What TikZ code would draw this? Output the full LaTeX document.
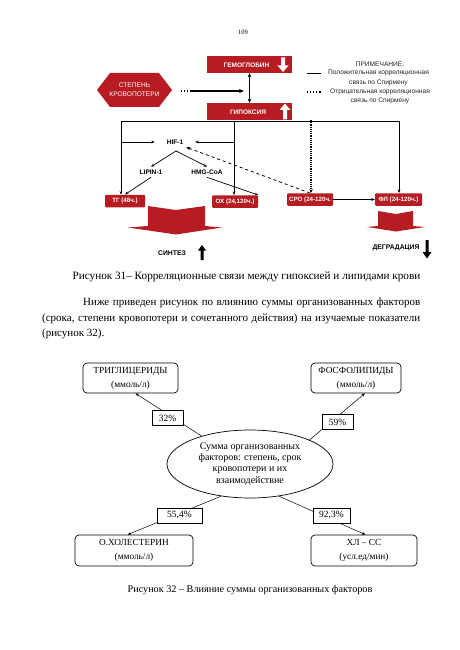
\documentclass[tikz,border=0pt]{standalone}
\usepackage{fontspec}
\setmainfont{Liberation Serif}
\newfontfamily\arial{Liberation Sans}
\usetikzlibrary{arrows.meta,shapes.geometric}
\definecolor{hred}{RGB}{182,28,34}
\begin{document}
\begin{tikzpicture}[x=1pt,y=-1pt,
  bigred/.style={fill=hred,draw=none,minimum width=85pt,minimum height=17pt,inner sep=0pt},
  redtxt/.style={text=white,font=\arial\bfseries\fontsize{6.5}{7}\selectfont,inner sep=0pt},
  smallred/.style={fill=hred,draw=none,rounded corners=1pt,text=white,font=\arial\bfseries\fontsize{6.2}{7}\selectfont,inner sep=0pt,minimum height=12.5pt},
  lbl/.style={font=\arial\bfseries\fontsize{6.6}{7}\selectfont,inner sep=0pt,outer sep=3pt},
  legtxt/.style={font=\arial\fontsize{6.6}{9.5}\selectfont,align=center,inner sep=0pt,text=black!85},
  ln/.style={line width=0.7pt},
  arr/.style={line width=0.7pt,-{Stealth[length=3.5pt,width=2.8pt]}},
  whitearrow/.style={fill=white,draw=none},
  blackarrow/.style={fill=black,draw=none},
  chev/.style={fill=hred,draw=none},
  rbox/.style={draw,rounded corners=4pt,line width=0.7pt,align=center,font=\fontsize{9.3}{14}\selectfont,inner sep=0pt},
  pct/.style={draw,fill=white,line width=0.6pt,font=\fontsize{9.5}{10}\selectfont,inner sep=0pt,minimum height=15pt},
  tarr/.style={line width=0.5pt,-{Stealth[length=3.5pt,width=2.8pt]}}
]
\useasboundingbox (0,0) rectangle (459,650);
\fill[white] (0,0) rectangle (459,650);

% page number
\node[font=\fontsize{6.5}{7}\selectfont] (pg) at (243,32) {109};

% ---------- Figure 31 ----------
\node[bigred] (gem) at (249.5,64.5) {};
\node[redtxt] (gemt) at (246.5,65) {ГЕМОГЛОБИН};
\fill[whitearrow] (281,57.5) -- (285,57.5) -- (285,65.5) -- (288.5,65.5) -- (283,72) -- (277.5,65.5) -- (281,65.5) -- cycle;

\node[bigred] (hyp) at (249.5,111.5) {};
\node[redtxt] (hypt) at (248,112) {ГИПОКСИЯ};
\fill[whitearrow] (285,103.5) -- (290.5,110) -- (287,110) -- (287,119.5) -- (283,119.5) -- (283,110) -- (279.5,110) -- cycle;

\draw[line width=1.1pt,{Stealth[length=4pt,width=3.5pt]}-{Stealth[length=4pt,width=3.5pt]}] (gem.south) -- (hyp.north);

% hexagon
\fill[hred] (97,90) -- (110,73) -- (159,73) -- (172,90) -- (159,107) -- (110,107) -- cycle;
\node[text=white,font=\arial\fontsize{6.6}{9}\selectfont,align=center,inner sep=0pt] (hex) at (134.5,90) {СТЕПЕНЬ\\КРОВОПОТЕРИ};
\coordinate (d1) at (181,91);
\coordinate (d2) at (190,91);
\coordinate (vt) at (244,91);
\draw[line width=1.1pt,dotted] (d1) -- (d2);
\draw[line width=1.1pt,-{Stealth[length=5pt,width=4pt]}] (d2) -- (vt);

% legend
\node[legtxt] (leg1) at (380,64) {ПРИМЕЧАНИЕ:};
\node[legtxt] (leg2) at (378.5,78) {Положительная корреляционная\\связь по Спирмену};
\node[legtxt] (leg3) at (380,96.5) {Отрицательная корреляционная\\связь по Спирмену};
\coordinate (la) at (307,73); \coordinate (lb) at (321,73);
\coordinate (lc) at (307,92); \coordinate (ld) at (321,92);
\draw[line width=0.8pt] (la) -- (lb);
\draw[line width=1.1pt,dotted] (lc) -- (ld);

% small red boxes
\node[smallred,minimum width=40pt] (tg) at (125,201) {ТГ (48ч.)};
\node[smallred,minimum width=46pt] (ox) at (235,201.5) {ОХ (24,120ч.)};
\node[smallred,minimum width=46pt] (sro) at (310,199.5) {СРО (24-120ч.};
\node[smallred,minimum width=47pt] (fl) at (398.5,199.5) {ФЛ (24-120ч.)};

% frame
\coordinate (fl1) at (121,121);
\coordinate (fr1) at (399,121);
\coordinate (fm1) at (234,121);
\coordinate (fh) at (311,120);
\draw[ln] (fl1) -- (fr1);
\draw[arr] (fl1) -- (fl1 |- tg.north);
\draw[arr] (fm1) -- (fm1 |- ox.north);
\draw[arr] (fr1) -- (fr1 |- fl.north);
\draw[line width=1.2pt,densely dotted,-{Stealth[length=4pt,width=3.5pt]}] (fh) -- (fh |- sro.north);

% HIF-1 etc
\node[lbl] (hif) at (175,142) {HIF-1};
\node[lbl] (lip) at (151,172) {LIPIN-1};
\node[lbl] (hmg) at (207,172) {HMG-CoA};
\draw[arr,shorten >=9pt] (fl1 |- hif) -- (hif.west);
\draw[arr,shorten >=9pt] (fm1 |- hif) -- (hif.east);
\coordinate (hb) at (176,151);
\draw[arr] (hb) -- (lip.north);
\draw[arr] (hb) -- (hmg.north);
\draw[arr] (lip.south) -- (tg.north);
\draw[arr] (hmg.south) -- (ox.north east);
\draw[line width=0.8pt,dashed,-{Stealth[length=4pt,width=3.5pt]}] (sro.north) -- (hif.south east);
\draw[arr] (sro.east) -- (fl.west);

% chevrons
\fill[chev] (148,206) -- (176,210) -- (205,206) -- (205,226) -- (222,227.5) -- (176,234.5) -- (128,227.5) -- (148,226) -- cycle;
\fill[chev] (378,211) -- (396,214) -- (413,211) -- (413,226) -- (425,227) -- (396,231.5) -- (367,227) -- (378,226) -- cycle;

\node[lbl,font=\arial\bfseries\fontsize{6.8}{7}\selectfont] (syn) at (172,253) {СИНТЕЗ};
\fill[blackarrow] (202,245) -- (206,250.5) -- (203.5,250.5) -- (203.5,260) -- (200.5,260) -- (200.5,250.5) -- (198,250.5) -- cycle;
\node[lbl,font=\arial\bfseries\fontsize{6.8}{7}\selectfont] (deg) at (396,248) {ДЕГРАДАЦИЯ};
\fill[blackarrow] (425.5,240) -- (428.5,240) -- (428.5,252) -- (431.5,252) -- (427,258.5) -- (422.5,252) -- (425.5,252) -- cycle;

% caption 31
\node[font=\fontsize{11.2}{12}\selectfont,inner sep=0pt] (cap31) at (246.5,277) {Рисунок 31– Корреляционные связи между гипоксией и липидами крови};

% paragraph
\node[anchor=north west,text width=378pt,align=justify,inner sep=0pt,font=\fontsize{11}{15.3}\selectfont] (par) at (42,298)
{\hspace*{41pt}Ниже приведен рисунок по влиянию суммы организованных факторов\linebreak
(срока, степени кровопотери и сочетанного действия) на изучаемые показатели\linebreak
(рисунок 32).};

% ---------- Figure 32 ----------
\node[rbox,minimum width=95pt,minimum height=30pt] (trig) at (130.5,378) {ТРИГЛИЦЕРИДЫ\\(ммоль/л)};
\node[rbox,minimum width=90pt,minimum height=30pt] (fosf) at (356,378) {ФОСФОЛИПИДЫ\\(ммоль/л)};
\node[rbox,minimum width=118pt,minimum height=31pt] (chol) at (134,550.5) {О.ХОЛЕСТЕРИН\\(ммоль/л)};
\node[rbox,minimum width=106pt,minimum height=31pt] (xl) at (364,550.5) {ХЛ – СС\\(усл.ед/мин)};
\node[draw,ellipse,line width=0.7pt,minimum width=166pt,minimum height=68pt,inner sep=0pt,align=center,font=\fontsize{10}{11.2}\selectfont] (ell) at (250,464)
{Сумма организованных\\факторов: степень, срок\\кровопотери  и их\\взаимодействие};

\draw[tarr] (ell.150) -- (trig.288);
\draw[tarr] (ell.22) -- (fosf.300);
\draw[tarr] (ell.228) -- (chol.112);
\draw[tarr] (ell.312) -- (xl.85);

\node[pct,minimum width=31pt] (p32) at (167.5,418) {32\%};
\node[pct,minimum width=31pt] (p59) at (337.5,422) {59\%};
\node[pct,minimum width=45pt] (p55) at (179.5,515.5) {55,4\%};
\node[pct,minimum width=37pt] (p92) at (331.5,515.5) {92,3\%};

\node[font=\fontsize{10.2}{11}\selectfont,inner sep=0pt] (cap32) at (250,590) {Рисунок 32 – Влияние суммы организованных факторов};
\end{tikzpicture}
\end{document}
